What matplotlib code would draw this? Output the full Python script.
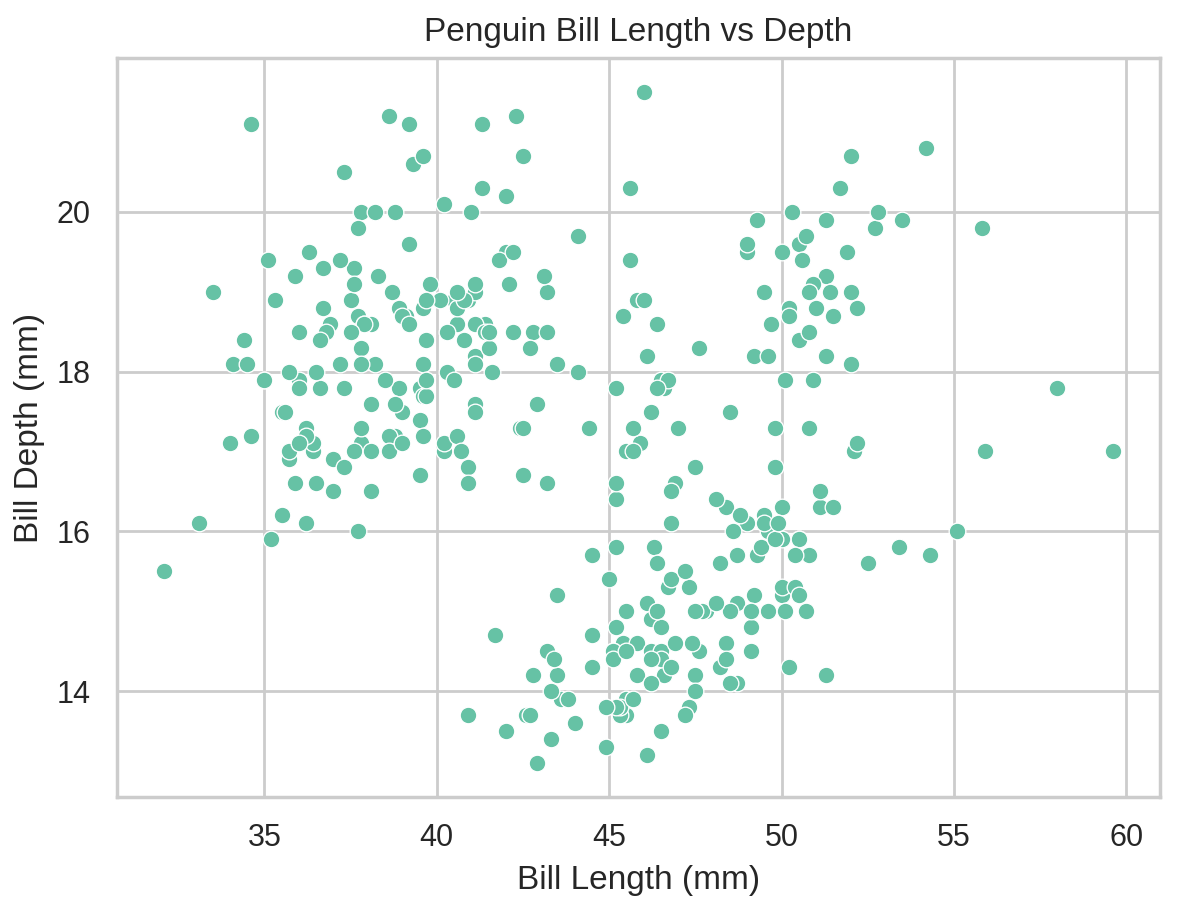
import matplotlib
matplotlib.use("Agg")
import matplotlib.pyplot as plt
import seaborn as sns

# bill length / depth (mm)
adelie_length = [
    39.1, 39.5, 40.3, 36.7, 39.3, 38.9, 39.2, 34.1, 42.0, 37.8, 37.8, 41.1, 38.6, 34.6, 36.6, 38.7, 42.5, 34.4, 46.0,
    37.8, 37.7, 35.9, 38.2, 38.8, 35.3, 40.6, 40.5, 37.9, 40.5,
    39.5, 37.2, 39.5, 40.9, 36.4, 39.2, 38.8, 42.2, 37.6, 39.8, 36.5, 40.8, 36.0, 44.1, 37.0, 39.6, 41.1, 37.5, 36.0, 42.3,
    39.6, 40.1, 35.0, 42.0, 34.5, 41.4, 39.0, 40.6, 36.5, 37.6, 35.7, 41.3, 37.6, 41.1, 36.4, 41.6, 35.5, 41.1,
    35.9, 41.8, 33.5, 39.7, 39.6, 45.8, 35.5, 42.8, 40.9, 37.2, 36.2, 42.1, 34.6, 42.9, 36.7, 35.1,
    37.3, 41.3, 36.3, 36.9, 38.3, 38.9, 35.7, 41.1, 34.0, 39.6, 36.2, 40.8, 38.1, 40.3, 33.1, 43.2,
    35.0, 41.0, 37.7, 37.8, 37.9, 39.7, 38.6, 38.2, 38.1, 43.2, 38.1, 45.6, 39.7, 42.2, 39.6, 42.7,
    38.6, 37.3, 35.7, 41.1, 36.2, 37.7, 40.2, 41.4, 35.2, 40.6, 38.8, 41.5, 39.0, 44.1, 38.5, 43.1,
    36.8, 37.5, 38.1, 41.1, 35.6, 40.2, 37.0, 39.7, 40.2, 40.6, 32.1, 40.7, 37.3, 39.0, 39.2, 36.6, 36.0, 37.8, 36.0, 41.5,
]
adelie_depth = [
    18.7, 17.4, 18.0, 19.3, 20.6, 17.8, 19.6, 18.1, 20.2, 17.1, 17.3, 17.6, 21.2, 21.1, 17.8, 19.0, 20.7, 18.4, 21.5,
    18.3, 18.7, 19.2, 18.1, 17.2, 18.9, 18.6, 17.9, 18.6, 18.9,
    16.7, 18.1, 17.8, 18.9, 17.0, 21.1, 20.0, 18.5, 19.3, 19.1, 18.0, 18.4, 18.5, 19.7, 16.9, 18.8, 19.0, 18.9, 17.9, 21.2,
    17.7, 18.9, 17.9, 19.5, 18.1, 18.6, 17.5, 18.8, 16.6, 19.1, 16.9, 21.1, 17.0, 18.2, 17.1, 18.0, 16.2, 19.1,
    16.6, 19.4, 19.0, 18.4, 17.2, 18.9, 17.5, 18.5, 16.8, 19.4, 16.1, 19.1, 17.2, 17.6, 18.8, 19.4,
    17.8, 20.3, 19.5, 18.6, 19.2, 18.8, 18.0, 18.1, 17.1, 18.1, 17.3, 18.9, 18.6, 18.5, 16.1, 18.5,
    17.9, 20.0, 16.0, 20.0, 18.6, 18.9, 17.2, 20.0, 17.0, 19.0, 16.5, 20.3, 17.7, 19.5, 20.7, 18.3,
    17.0, 20.5, 17.0, 18.6, 17.2, 19.8, 17.0, 18.5, 15.9, 19.0, 17.6, 18.3, 17.1, 18.0, 17.9, 19.2,
    18.5, 18.5, 17.6, 17.5, 17.5, 20.1, 16.5, 17.9, 17.1, 17.2, 15.5, 17.0, 16.8, 18.7, 18.6, 18.4, 17.8, 18.1, 17.1, 18.5,
]

gentoo_length = [
    46.1, 50.0, 48.7, 50.0, 47.6, 46.5, 45.4, 46.7, 43.3, 46.8, 40.9, 49.0, 45.5, 48.4, 45.8, 49.3, 42.0, 49.2, 46.2, 48.7,
    50.2, 45.1, 46.5, 46.3, 42.9, 46.1, 44.5, 47.8, 48.2, 50.0, 47.3, 42.8, 45.1, 59.6, 49.1, 48.4, 42.6, 44.4, 44.0, 48.7,
    42.7, 49.6, 45.3, 49.6, 50.5, 43.6, 45.5, 50.5, 44.9, 45.2, 46.6, 48.5, 45.1, 50.1, 46.5, 45.0, 43.8, 45.5, 43.2, 50.4,
    45.3, 46.2, 45.7, 54.3, 45.8, 49.8, 46.2, 49.5, 43.5, 50.7, 47.7, 46.4, 48.2, 46.5, 46.4, 48.6, 47.5, 51.1, 45.2, 45.2,
    49.1, 52.5, 47.4, 50.0, 44.9, 50.8, 43.4, 51.3, 47.5, 52.1, 47.5, 52.2, 45.5, 49.5, 44.5, 50.8, 49.4, 46.9, 48.4, 51.1,
    48.5, 55.9, 47.2, 49.1, 47.3, 46.8, 41.7, 53.4, 43.3, 48.1, 50.5, 49.8, 43.5, 51.5, 46.2, 55.1, 44.5, 48.8, 47.2, 46.8,
    50.4, 45.2, 49.9,
]
gentoo_depth = [
    13.2, 16.3, 14.1, 15.2, 14.5, 13.5, 14.6, 15.3, 13.4, 15.4, 13.7, 16.1, 13.7, 14.6, 14.6, 15.7, 13.5, 15.2, 14.5, 15.1,
    14.3, 14.5, 14.5, 15.8, 13.1, 15.1, 14.3, 15.0, 14.3, 15.3, 15.3, 14.2, 14.5, 17.0, 14.8, 16.3, 13.7, 17.3, 13.6, 15.7,
    13.7, 16.0, 13.7, 15.0, 15.9, 13.9, 13.9, 15.9, 13.3, 15.8, 14.2, 14.1, 14.4, 15.0, 14.4, 15.4, 13.9, 15.0, 14.5, 15.3,
    13.8, 14.9, 13.9, 15.7, 14.2, 16.8, 14.4, 16.2, 14.2, 15.0, 15.0, 15.6, 15.6, 14.8, 15.0, 16.0, 14.2, 16.3, 13.8, 16.4,
    14.5, 15.6, 14.6, 15.9, 13.8, 17.3, 14.4, 14.2, 14.0, 17.0, 15.0, 17.1, 14.5, 16.1, 14.7, 15.7, 15.8, 14.6, 14.4, 16.5,
    15.0, 17.0, 15.5, 15.0, 13.8, 16.1, 14.7, 15.8, 14.0, 15.1, 15.2, 15.9, 15.2, 16.3, 14.1, 16.0, 15.7, 16.2, 13.7, 14.3,
    15.7, 14.8, 16.1,
]

chinstrap_length = [
    46.5, 50.0, 51.3, 45.4, 52.7, 45.2, 46.1, 51.3, 46.0, 51.3, 46.6, 51.7, 47.0, 52.0, 45.9, 50.5, 50.3, 58.0, 46.4, 49.2,
    42.4, 48.5, 43.2, 50.6, 46.7, 52.0, 50.5, 49.5, 46.4, 52.8, 40.9, 54.2, 42.5, 51.0, 49.7, 47.5, 47.6, 52.0, 46.9, 53.5,
    49.0, 46.2, 50.9, 45.5, 50.9, 50.8, 50.1, 49.0, 51.5, 49.8, 48.1, 51.4, 45.7, 50.7, 42.5, 52.2, 45.2, 49.3, 50.2, 45.6,
    51.9, 46.8, 45.7, 55.8, 43.5, 49.6, 50.8, 50.2,
]
chinstrap_depth = [
    17.9, 19.5, 19.2, 18.7, 19.8, 17.8, 18.2, 18.2, 18.9, 19.9, 17.8, 20.3, 17.3, 18.1, 17.1, 19.6, 20.0, 17.8, 18.6, 18.2,
    17.3, 17.5, 16.6, 19.4, 17.9, 19.0, 18.4, 19.0, 17.8, 20.0, 16.6, 20.8, 16.7, 18.8, 18.6, 16.8, 18.3, 20.7, 16.6, 19.9,
    19.5, 17.5, 19.1, 17.0, 17.9, 18.5, 17.9, 19.6, 18.7, 17.3, 16.4, 19.0, 17.3, 19.7, 17.3, 18.8, 16.6, 19.9, 18.8, 19.4,
    19.5, 16.5, 17.0, 19.8, 18.1, 18.2, 19.0, 18.7,
]

bill_length = adelie_length + gentoo_length + chinstrap_length
bill_depth = adelie_depth + gentoo_depth + chinstrap_depth

sns.set_theme(style="whitegrid", palette="Set2")
plt.rcParams["font.family"] = ["Liberation Sans", "DejaVu Sans"]

fig, ax = plt.subplots(figsize=(5.885, 4.545))
sns.scatterplot(x=bill_length, y=bill_depth, ax=ax)

ax.set_title("Penguin Bill Length vs Depth")
ax.set_xlabel("Bill Length (mm)")
ax.set_ylabel("Bill Depth (mm)")

# axes box placed as in the reference
fig.subplots_adjust(left=0.0994, right=0.9856, bottom=0.1232, top=0.9362)
plt.savefig("out.png", dpi=200)
